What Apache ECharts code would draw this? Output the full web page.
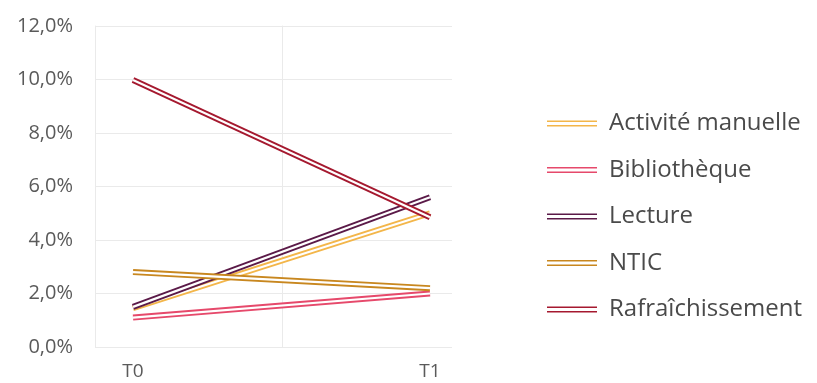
<!DOCTYPE html>
<html>
<head>
<meta charset="utf-8">
<script src="https://cdn.jsdelivr.net/npm/echarts@6/dist/echarts.min.js"></script>
<style>
	html, body { margin: 0; padding: 0; background: #fff; }
	#chart { width: 817px; height: 383px; }
</style>
</head>
<body>
<div id="chart"></div>
<script>
const periods = [ 'T0', 'T1' ];
const seriesNames = [ 'Activité manuelle', 'Bibliothèque', 'Lecture', 'NTIC', 'Rafraîchissement' ];
const activite = [ 1.45, 5.0 ];
const bibliotheque = [ 1.1, 2.0 ];
const lecture = [ 1.5, 5.6 ];
const ntic = [ 2.8, 2.2 ];
const rafraichissement = [ 9.98, 4.85 ];
const yTicks = [ 0, 2, 4, 6, 8, 10, 12 ];

const values = [ activite, bibliotheque, lecture, ntic, rafraichissement ];
const colors = [ '#F3B64A', '#E6496B', '#5B1A48', '#C8871F', '#A5192F' ];

const labelFont = 'Open Sans, Lato, sans-serif';
const textGray = '#5a5a5a';
const gridGray = '#eaeaea';

const formatPercent = ( v ) => v.toFixed( 1 ).replace( '.', ',' ) + '%';

// Each line is drawn twice: a thick coloured stroke and a thin white one on
// top, which gives the double-line look of the original.
const series = [];
seriesNames.forEach( ( name, i ) => {
	series.push( {
		name,
		type: 'line',
		xAxisIndex: 1,
		yAxisIndex: 2,
		data: values[ i ],
		symbol: 'none',
		color: colors[ i ],
		lineStyle: { width: 6, color: colors[ i ] }
	} );
	series.push( {
		name: 'inner-' + i,
		type: 'line',
		xAxisIndex: 1,
		yAxisIndex: 2,
		data: values[ i ],
		symbol: 'none',
		lineStyle: { width: 2.2, color: '#ffffff' }
	} );
} );

const chart = echarts.init( document.getElementById( 'chart' ), null, { renderer: 'canvas' } );

chart.setOption( {
	animation: false,
	backgroundColor: '#ffffff',
	grid: [
		{ left: 95, right: 365, top: 26, bottom: 36 },
		{ left: 133, right: 387, top: 26, bottom: 36 }
	],
	xAxis: [
		{ gridIndex: 0, type: 'value', min: 0, max: 1, show: false },
		{
			gridIndex: 1,
			type: 'category',
			data: periods,
			boundaryGap: false,
			axisLine: { show: false },
			axisTick: { show: false },
			splitLine: { show: false },
			axisLabel: {
				color: textGray,
				fontFamily: labelFont,
				fontSize: 19,
				margin: 15
			}
		}
	],
	yAxis: [
		{
			gridIndex: 0,
			type: 'value',
			position: 'left',
			min: yTicks[ 0 ],
			max: yTicks[ yTicks.length - 1 ],
			interval: 2,
			axisLine: { show: true, lineStyle: { color: gridGray } },
			axisTick: { show: false },
			splitLine: { lineStyle: { color: gridGray, width: 1 } },
			axisLabel: {
				formatter: formatPercent,
				color: textGray,
				fontFamily: labelFont,
				fontSize: 20,
				margin: 22
			}
		},
		{
			// middle vertical gridline
			gridIndex: 0,
			type: 'value',
			position: 'left',
			min: 0,
			max: 12,
			offset: -187,
			axisLine: { show: true, lineStyle: { color: gridGray } },
			axisTick: { show: false },
			axisLabel: { show: false },
			splitLine: { show: false }
		},
		{
			gridIndex: 1,
			type: 'value',
			min: 0,
			max: 12,
			show: false
		}
	],
	legend: {
		data: seriesNames,
		orient: 'vertical',
		left: 547,
		top: 111,
		padding: 0,
		itemWidth: 50,
		itemHeight: 6,
		itemGap: 21.5,
		icon: 'path://M0,0H50V1.6H0Z M0,4.4H50V6H0Z',
		textStyle: {
			color: '#4a4a4a',
			fontFamily: labelFont,
			fontSize: 24,
			lineHeight: 25,
			padding: [ 0, 0, 0, 7 ]
		}
	},
	series
} );
</script>
</body>
</html>
